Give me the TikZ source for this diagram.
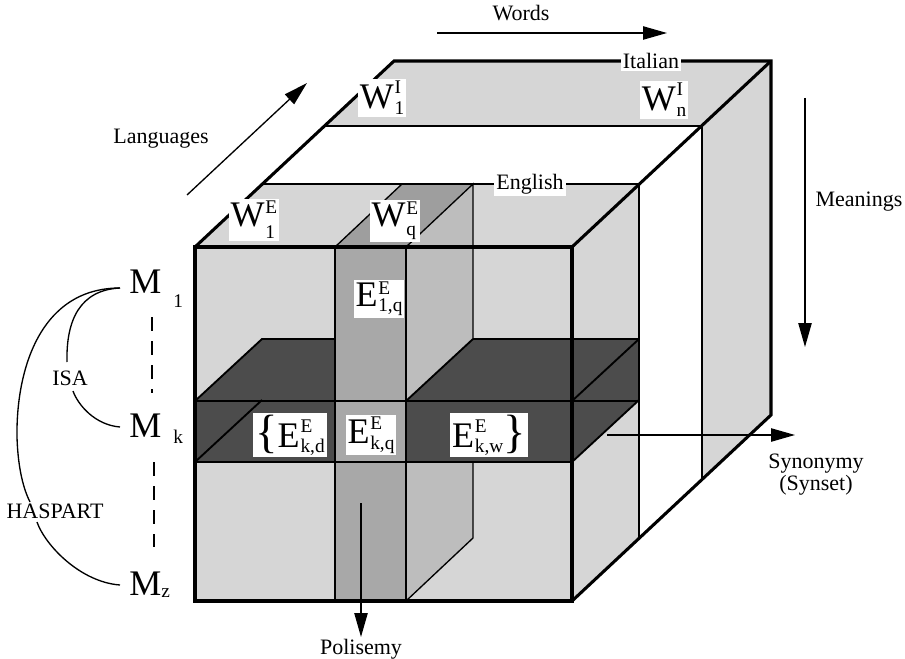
\documentclass[tikz,border=0pt]{standalone}
\usepackage{fontspec}
\setmainfont{Liberation Serif}
\usetikzlibrary{arrows.meta,calc}
\newcommand\lblfont{\fontsize{27}{29}\selectfont}
\newcommand\scrfont{\fontsize{14.5}{16}\selectfont}
\newcommand\smlfont{\fontsize{16.5}{17}\selectfont}
\newcommand\bracefont{\fontsize{35}{35}\selectfont}
\newcommand\wlab[5]{{\lblfont #1}\kern0.6pt{\scrfont\ooalign{\raisebox{#4}{#2}\cr\raisebox{-#5}{#3}\cr}}}
\tikzset{
  thk/.style={line width=2.3pt, line join=miter},
  thn/.style={line width=1pt},
  midl/.style={line width=1.4pt},
  lite/.style={fill=black!16},
  coltop/.style={fill=black!38},
  colside/.style={fill=black!26},
  colfront/.style={fill=black!34},
  bandf/.style={fill=black!70},
  arr/.style={line width=1pt, -{Triangle[length=18pt,width=10pt]}},
  wbox/.style={fill=white, inner sep=1.5pt},
  mlab/.style={anchor=base west, inner sep=0pt, font=\lblfont},
  mscr/.style={anchor=base west, inner sep=0pt, font=\scrfont},
  dashl/.style={line width=1pt, dash pattern=on 10.5pt off 7.5pt},
}
\begin{document}
\begin{tikzpicture}[x={(0.75pt,0)}, y={(0,-0.75pt)}, font=\smlfont]
\useasboundingbox (0,0) rectangle (905,659);
% Italian slab
\fill[lite] (325,126) -- (702,126) -- (771,61) -- (394,61) -- cycle;
\fill[lite] (702,126) -- (771,61) -- (771,415) -- (702,480) -- cycle;
% English slab
\fill[lite] (195,247) -- (572,247) -- (639,184) -- (262,184) -- cycle;
\fill[lite] (572,247) -- (639,184) -- (639,538) -- (572,601) -- cycle;
\fill[lite] (195,247) rectangle (572,601);
% column q
\fill[coltop] (335,247) -- (406,247) -- (473,184) -- (402,184) -- cycle;
\fill[colside] (406,247) -- (473,184) -- (473,538) -- (406,601) -- cycle;
\draw[thn] (406,247) -- (473,184) -- (473,538) -- (406,601);
\draw[thn] (335,247) -- (402,184);
% band k
\fill[bandf] (195,462) -- (195,401) -- (262,339) -- (335,339) -- (335,401) -- (406,401)
  -- (473,339) -- (639,339) -- (639,400) -- (572,462) -- cycle;
% column front
\fill[colfront] (335,247) rectangle (406,601);
\draw[thn] (335,247) -- (335,601) (406,247) -- (406,601);
% band lines
\draw[midl] (195,401) -- (639,401);
\draw[midl] (195,462) -- (572,462);
\draw[midl] (195,401) -- (262,339) -- (335,339);
\draw[midl] (473,339) -- (639,339);
\draw[midl] (406,401) -- (473,339);
\draw[midl] (572,401) -- (639,339);
\draw[midl] (572,462) -- (639,400);
\draw[midl] (195,462) -- (262,400);
% slab edges
\draw[thn] (325,126) -- (702,126) -- (702,480);
\draw[thn] (262,184) -- (639,184) -- (639,538);
% outer box
\draw[thk] (195,247) rectangle (572,601);
\draw[thk] (195,247) -- (394,61) -- (771,61) -- (771,415) -- (572,601);
\draw[thk] (572,247) -- (771,61);
% labels on the box
\node[wbox] (it) at (651,61) {Italian};
\node[wbox] (en) at (530,184) {English};
\node[wbox] (w1e) at (254,220) {\wlab{W}{E}{1}{10pt}{9pt}};
\node[wbox] (wqe) at (395,221) {\wlab{W}{E}{q}{9pt}{7pt}};
\node[wbox] (w1i) at (382,98) {\wlab{W}{I}{1}{11pt}{5pt}};
\node[wbox] (wni) at (664,100) {\wlab{W}{I}{n}{11pt}{5pt}};
\node[wbox] (e1q) at (379,299) {\wlab{E}{E}{1,q}{9pt}{4pt}};
\node[wbox] (ekd) at (290,435) {{\bracefont\{}\wlab{E}{E}{k,d}{11pt}{4pt}};
\node[wbox] (ekq) at (371,435) {\wlab{E}{E}{k,q}{11pt}{4pt}};
\node[wbox] (ekw) at (489,435) {\wlab{E}{E}{k,w}{11pt}{4pt}{\bracefont\}}};
% axis arrows
\coordinate (wa) at (437,33); \coordinate (wb) at (667,33);
\draw[arr] (wa) -- (wb);
\node (words) at (521,13) {Words};
\coordinate (la) at (187,195); \coordinate (lb) at (307,83);
\draw[arr] (la) -- (lb);
\node (lang) at (161,139) {Languages};
\coordinate (ma) at (805,98); \coordinate (mb) at (805,347);
\draw[arr] (ma) -- (mb);
\node (mean) at (859,202) {Meanings};
\coordinate (sa) at (607,435); \coordinate (sb) at (795,435);
\draw[arr] (sa) -- (sb);
\node[align=center, font=\fontsize{16.5}{16.5}\selectfont] (syn) at (816,475) {Synonymy\\(Synset)};
\coordinate (pa) at (361,503); \coordinate (pb) at (361,637);
\draw[arr] (pa) -- (pb);
\node (pol) at (361,649) {Polisemy};
% meanings on the left
\node[mlab] (m1) at (129,293) {M};
\node[mscr] (m1s) at (173,307) {1};
\node[mlab] (mk) at (129,437) {M};
\node[mscr] (mks) at (173,443) {k};
\node[mlab] (mz) at (129,595) {M};
\node[mscr] (mzs) at (161,597) {z};
\node (isa) at (70,378) {ISA};
\node (hasp) at (55,511) {HASPART};
\coordinate (m1p) at ($(m1.base west)+(-9,-5)$);
\coordinate (mkp) at ($(mk.base west)+(-9,-10)$);
\coordinate (mzp) at ($(mz.base west)+(-9,-10)$);
\draw[thn] (m1p) .. controls (80,290) and (66,320) .. (67,362);
\draw[thn] (73,391) .. controls (78,405) and (95,425) .. (mkp);
\draw[thn] (m1p) .. controls (40,288) and (16,370) .. (17,437) .. controls (18,470) and (24,490) .. (30,502);
\draw[thn] (37,522) .. controls (45,545) and (80,582) .. (mzp);
\draw[dashl] ($(m1.base west)+(23,24)$) -- ($(mk.base west)+(23,-44)$);
\draw[dashl] ($(mk.base west)+(25,25)$) -- ($(mz.base west)+(25,-48)$);
\end{tikzpicture}
\end{document}
